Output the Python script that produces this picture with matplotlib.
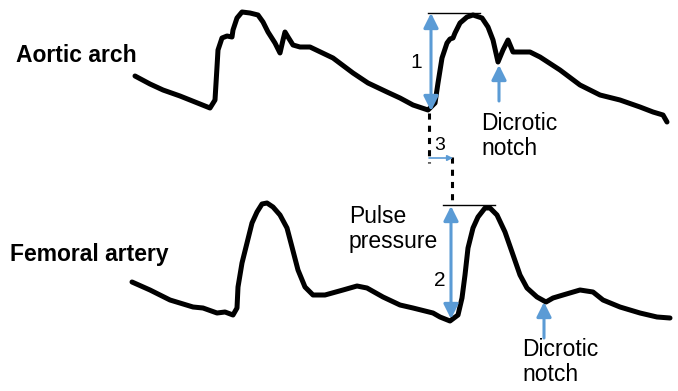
import matplotlib.pyplot as plt

plt.rcParams['font.family'] = ['Liberation Sans', 'DejaVu Sans']

# traced waveforms (pixel coordinates of the reference picture)
aortic_x = [135, 150, 163, 180, 195, 205, 210, 215, 217, 218, 222, 227, 232, 233, 237, 242,
            250, 258, 263, 268, 275, 280, 283, 285, 288, 293, 300, 310, 333, 353, 368, 387,
            400, 413, 428, 435, 438, 442, 447, 450, 453, 455, 460, 467, 473, 482, 488, 493,
            498, 503, 508, 513, 520, 530, 540, 560, 580, 600, 620, 640, 653, 663, 667]
aortic_y = [76, 84, 90, 96, 102, 106, 108, 100, 67, 50, 38, 36, 37, 30, 18, 12,
            13, 15, 22, 32, 43, 53, 40, 32, 37, 45, 47, 47, 58, 73, 83, 92,
            98, 105, 110, 103, 83, 58, 43, 39, 38, 33, 23, 17, 15, 18, 27, 40,
            62, 50, 40, 52, 52, 52, 57, 70, 85, 95, 100, 107, 112, 115, 122]

femoral_x = [132, 150, 170, 193, 203, 217, 225, 233, 237, 238, 242, 247, 252, 257, 262, 267,
             273, 280, 287, 292, 298, 305, 313, 325, 343, 357, 367, 383, 400, 413, 433, 440,
             450, 458, 462, 465, 468, 473, 478, 485, 490, 497, 505, 512, 520, 527, 537, 546,
             553, 563, 580, 593, 603, 620, 640, 657, 670]
femoral_y = [282, 290, 300, 307, 308, 313, 312, 315, 308, 287, 263, 243, 223, 212, 204, 203,
             207, 215, 228, 247, 270, 287, 295, 295, 290, 286, 288, 297, 305, 308, 313, 317,
             321, 315, 298, 275, 248, 228, 217, 208, 208, 215, 232, 252, 275, 288, 297, 302,
             298, 295, 290, 292, 300, 307, 313, 317, 318]

blue = '#5b9bd5'

fig = plt.figure(figsize=(6.78, 3.91), dpi=100)
ax = fig.add_axes([0, 0, 1, 1])
ax.set_xlim(0, 678)
ax.set_ylim(391, 0)
ax.axis('off')

ax.plot(aortic_x, aortic_y, color='black', lw=3.6, solid_joinstyle='round', solid_capstyle='round')
ax.plot(femoral_x, femoral_y, color='black', lw=3.6, solid_joinstyle='round', solid_capstyle='round')

# peak reference lines
ax.plot([428, 480], [13, 13], color='black', lw=1)
ax.plot([443, 495], [205, 205], color='black', lw=1)

# dashed timing lines
ax.plot([429, 429], [113, 163], color='black', lw=2.2, ls=(0, (2, 2)))
ax.plot([452, 452], [157, 204], color='black', lw=2.2, ls=(0, (2, 2)))

def arrow(x0, y0, x1, y1, style='<|-|>', lw=2.2, ms=22):
    ax.annotate('', xy=(x1, y1), xytext=(x0, y0),
                arrowprops=dict(arrowstyle=style, color=blue, lw=lw,
                                mutation_scale=ms, shrinkA=0, shrinkB=0))

arrow(431, 111, 431, 13)
arrow(451, 319, 451, 206)
arrow(429, 158, 453, 158, style='-|>', lw=1.2, ms=8)
arrow(499, 101, 499, 65, style='-|>')
arrow(544, 338, 544, 302, style='-|>')

fs = 16.5
ax.text(16, 55, 'Aortic arch', fontsize=fs, fontweight='bold', va='center', ha='left')
ax.text(10, 254, 'Femoral artery', fontsize=fs, fontweight='bold', va='center', ha='left')
ax.text(416, 62, '1', fontsize=15, va='center', ha='center')
ax.text(440, 281, '2', fontsize=15, va='center', ha='center')
ax.text(440, 145, '3', fontsize=14, va='center', ha='center')
ax.text(349, 229, 'Pulse\npressure', fontsize=fs, va='center', ha='left', linespacing=1.1)
ax.text(481, 136, 'Dicrotic\nnotch', fontsize=fs, va='center', ha='left', linespacing=1.1)
ax.text(522, 362, 'Dicrotic\nnotch', fontsize=fs, va='center', ha='left', linespacing=1.1)

fig.savefig('out.png', dpi=100)
